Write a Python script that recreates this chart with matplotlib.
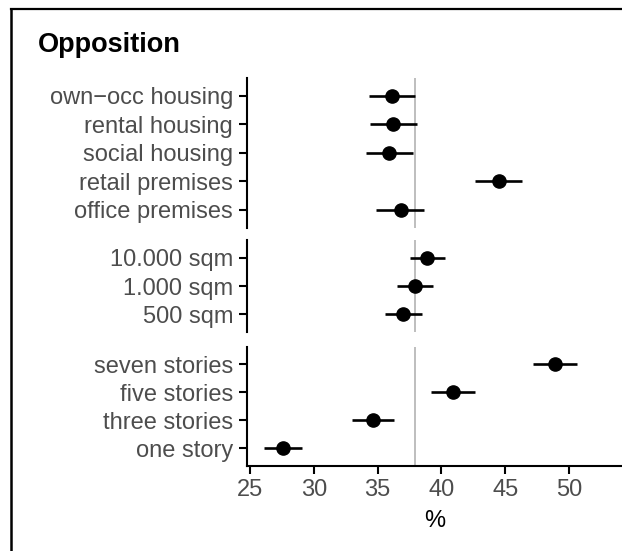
import matplotlib.pyplot as plt
from matplotlib.lines import Line2D

# data
cats_use = ["own\u2212occ housing", "rental housing", "social housing",
            "retail premises", "office premises"]
est_use = [36.1, 36.2, 35.9, 44.5, 36.8]
lo_use = [34.3, 34.4, 34.1, 42.6, 34.9]
hi_use = [37.9, 38.1, 37.8, 46.3, 38.6]

cats_size = ["10.000 sqm", "1.000 sqm", "500 sqm"]
est_size = [38.9, 37.9, 37.0]
lo_size = [37.5, 36.5, 35.6]
hi_size = [40.3, 39.3, 38.5]

cats_height = ["seven stories", "five stories", "three stories", "one story"]
est_height = [48.9, 40.9, 34.6, 27.6]
lo_height = [47.2, 39.2, 33.0, 26.1]
hi_height = [50.6, 42.6, 36.3, 29.1]

ref_line = 37.9
xticks = [25, 30, 35, 40, 45, 50]

W, H = 622, 551
LABEL_GREY = "#4D4D4D"
LW = 1.5
FS = 17


def panel(fig, top, bottom, cats, est, lo, hi, show_x):
    left = 247
    ax = fig.add_axes([left / W, 1 - bottom / H, (W - left) / W, (bottom - top) / H])
    y = list(range(len(cats)))
    ax.axvline(ref_line, color="#BEBEBE", lw=1.4, zorder=1)
    ax.hlines(y, lo, hi, color="black", lw=1.9, zorder=2)
    ax.plot(est, y, "o", color="black", ms=9.5, zorder=3)
    ax.set_yticks(y)
    ax.set_yticklabels(cats)
    ax.set_ylim(len(cats) - 1 + 0.63, -0.63)
    ax.set_xlim(24.76, 54.15)
    for s in ["top", "right"]:
        ax.spines[s].set_visible(False)
    ax.spines["left"].set_linewidth(LW)
    ax.tick_params(axis="y", length=6, width=LW, pad=4, labelsize=FS,
                   labelcolor=LABEL_GREY)
    if show_x:
        ax.spines["bottom"].set_linewidth(LW)
        ax.set_xticks(xticks)
        ax.tick_params(axis="x", length=6, width=LW, pad=3, labelsize=FS,
                       labelcolor=LABEL_GREY)
        ax.set_xlabel("%", fontsize=FS, labelpad=7)
    else:
        ax.spines["bottom"].set_visible(False)
        ax.set_xticks([])
    return ax


def main():
    plt.rcParams["font.family"] = ["Liberation Sans", "DejaVu Sans"]
    fig = plt.figure(figsize=(W / 100, H / 100), dpi=100)

    panel(fig, 78, 227.5, cats_use, est_use, lo_use, hi_use, False)
    panel(fig, 240, 332, cats_size, est_size, lo_size, hi_size, False)
    panel(fig, 346.5, 466, cats_height, est_height, lo_height, hi_height, True)

    fig.text(38 / W, 1 - 45 / H, "Opposition", fontsize=19.5, fontweight="bold",
             va="center", ha="left")

    # frame, only the top and left edges fall inside the picture
    fy = 1 - 8.5 / H
    fx = 11 / W
    fig.add_artist(Line2D([fx, 1.0], [fy, fy], color="black", lw=1.6,
                          transform=fig.transFigure))
    fig.add_artist(Line2D([fx, fx], [0.0, fy], color="black", lw=1.8,
                          transform=fig.transFigure))

    fig.savefig("out.png", dpi=100)


if __name__ == "__main__":
    main()
